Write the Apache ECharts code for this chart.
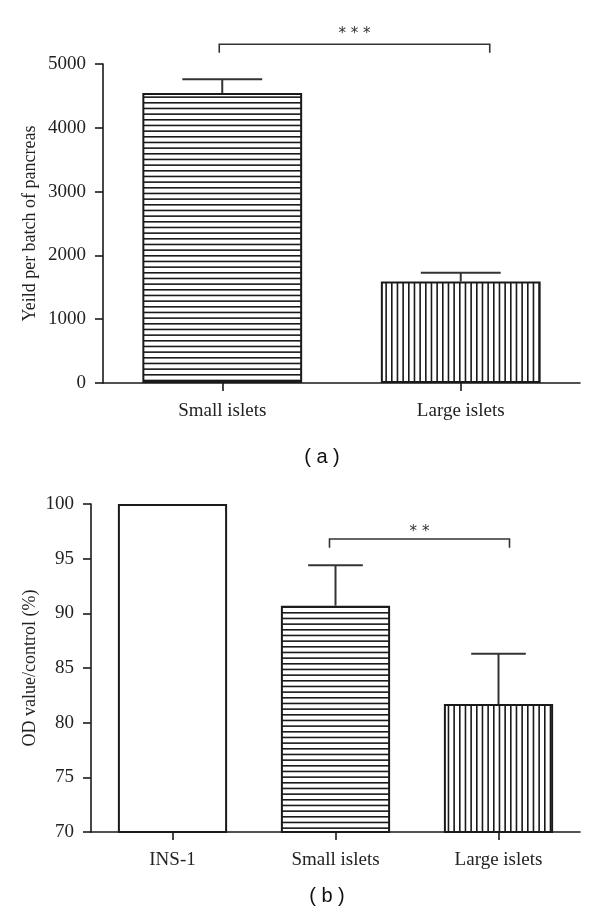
<!DOCTYPE html>
<html>
<head>
<meta charset="utf-8">
<script src="https://cdn.jsdelivr.net/npm/echarts@6/dist/echarts.min.js"></script>
<style>html,body{margin:0;padding:0;background:#fff}#c{width:600px;height:921px}</style>
</head>
<body>
<div id="c"></div>
<script>
// ---- Data ----
const categoriesA = ['Small islets', 'Large islets'];
const valuesA = [4545, 1590];
const errorsA = [215, 140];
const yNameA = 'Yeild per batch of pancreas';
const bracketA = [0, 1, 5310, 5177]; // fromCat, toCat, top value, drop value
const bracketLabelA = '* * *';

const categoriesB = ['INS-1', 'Small islets', 'Large islets'];
const valuesB = [100, 90.7, 81.7];
const errorsB = [0, 3.7, 4.6];
const yNameB = 'OD value/control (%)';
const bracketB = [1, 2, 96.8, 96.0];
const bracketLabelB = '* *';

const panelLabels = ['( a )', '( b )'];

// ---- Patterns ----
function hatch(dir) {
  const c = document.createElement('canvas');
  const period = 17, n = 3;
  if (dir === 'h') { c.width = 4; c.height = period; } else { c.width = period; c.height = 4; }
  const ctx = c.getContext('2d');
  ctx.fillStyle = '#fff'; ctx.fillRect(0, 0, c.width, c.height);
  ctx.fillStyle = '#1a1a1a';
  for (let k = 0; k < n; k++) {
    const p = k * period / n;
    if (dir === 'h') ctx.fillRect(0, p, c.width, 1.6);
    else ctx.fillRect(p, 0, 1.6, c.height);
  }
  return { image: c, repeat: 'repeat' };
}
const HPAT = hatch('h'), VPAT = hatch('v');

const SERIF = '"Liberation Serif", "DejaVu Serif", serif';
const LINE = '#1a1a1a';
const BAR_RATIO = 0.67;

function barItems(values, fills) {
  return values.map((v, i) => ({ value: v, itemStyle: { color: fills[i], borderColor: LINE, borderWidth: 2 } }));
}

function errorSeries(xi, yi, values, errors) {
  return {
    type: 'custom', xAxisIndex: xi, yAxisIndex: yi, z: 5,
    data: values.map((v, i) => [i, v, v + errors[i], errors[i]]),
    encode: { x: 0, y: [1, 2] },
    renderItem: function (params, api) {
      if (api.value(3) <= 0) return null;
      const x = api.value(0);
      const p0 = api.coord([x, api.value(1)]);
      const p1 = api.coord([x, api.value(2)]);
      const cap = api.size([1, 0])[0] * BAR_RATIO * 0.25;
      const st = { stroke: '#333', lineWidth: 2 };
      return { type: 'group', children: [
        { type: 'line', shape: { x1: p0[0], y1: p0[1], x2: p1[0], y2: p1[1] }, style: st },
        { type: 'line', shape: { x1: p1[0] - cap, y1: p1[1], x2: p1[0] + cap, y2: p1[1] }, style: st }
      ]};
    }
  };
}

function bracketSeries(xi, yi, br, label, offL, offR, textGap) {
  return {
    type: 'custom', xAxisIndex: xi, yAxisIndex: yi, z: 6, clip: false,
    data: [br],
    encode: { x: [0, 1], y: [2, 3] },
    renderItem: function (params, api) {
      const pl = api.coord([api.value(0), api.value(2)]);
      const pr = api.coord([api.value(1), api.value(2)]);
      const pd = api.coord([api.value(0), api.value(3)]);
      const lx = pl[0] + offL, rx = pr[0] + offR, y = pl[1], dy = pd[1];
      return { type: 'group', children: [
        { type: 'polyline', shape: { points: [[lx, dy], [lx, y], [rx, y], [rx, dy]] },
          style: { stroke: '#333', lineWidth: 1.6, fill: null } },
        { type: 'text', style: { text: label, x: (lx + rx) / 2, y: y - textGap, align: 'center', verticalAlign: 'middle',
          font: '15px "DejaVu Sans", sans-serif', fill: '#333' } }
      ]};
    }
  };
}

function yAxis(gi, min, max, interval, name, gap) {
  return {
    type: 'value', gridIndex: gi, min: min, max: max, interval: interval,
    name: name, nameLocation: 'middle', nameGap: gap, nameRotate: 90, nameMoveOverlap: false,
    nameTextStyle: { fontFamily: SERIF, fontSize: 18, color: '#222' },
    axisLine: { show: true, lineStyle: { color: LINE, width: 1.6 } },
    axisTick: { show: true, length: 8, lineStyle: { color: LINE, width: 1.6 } },
    axisLabel: { margin: 17, fontFamily: SERIF, fontSize: 19, color: '#222', formatter: v => String(v) },
    splitLine: { show: false }
  };
}
function xAxis(gi, cats) {
  return {
    type: 'category', gridIndex: gi, data: cats,
    axisLine: { show: true, lineStyle: { color: LINE, width: 1.6 } },
    axisTick: { show: true, alignWithLabel: true, length: 8, lineStyle: { color: LINE, width: 1.6 } },
    axisLabel: { margin: 19, fontFamily: SERIF, fontSize: 19, color: '#222' }
  };
}

const chart = echarts.init(document.getElementById('c'), null, { renderer: 'canvas' });
chart.setOption({
  animation: false,
  backgroundColor: '#fff',
  grid: [
    { left: 103, right: 20, top: 64, bottom: 538 },
    { left: 91, right: 20, top: 504, bottom: 89 }
  ],
  xAxis: [xAxis(0, categoriesA), xAxis(1, categoriesB)],
  yAxis: [yAxis(0, 0, 5000, 1000, yNameA, 64), yAxis(1, 70, 100, 5, yNameB, 52)],
  series: [
    { type: 'bar', xAxisIndex: 0, yAxisIndex: 0, barWidth: (BAR_RATIO * 100) + '%', data: barItems(valuesA, [HPAT, VPAT]) },
    errorSeries(0, 0, valuesA, errorsA),
    bracketSeries(0, 0, bracketA, bracketLabelA, -3, 29, 10),
    { type: 'bar', xAxisIndex: 1, yAxisIndex: 1, barWidth: (BAR_RATIO * 100) + '%', data: barItems(valuesB, ['#fff', HPAT, VPAT]) },
    errorSeries(1, 1, valuesB, errorsB),
    bracketSeries(1, 1, bracketB, bracketLabelB, -6, 11, 7)
  ],
  graphic: [
    { type: 'text', x: 322, y: 457, style: { text: panelLabels[0], align: 'center', verticalAlign: 'middle', font: '20px "Liberation Sans", sans-serif', fill: '#111' } },
    { type: 'text', x: 327, y: 896, style: { text: panelLabels[1], align: 'center', verticalAlign: 'middle', font: '20px "Liberation Sans", sans-serif', fill: '#111' } }
  ]
});
</script>
</body>
</html>
